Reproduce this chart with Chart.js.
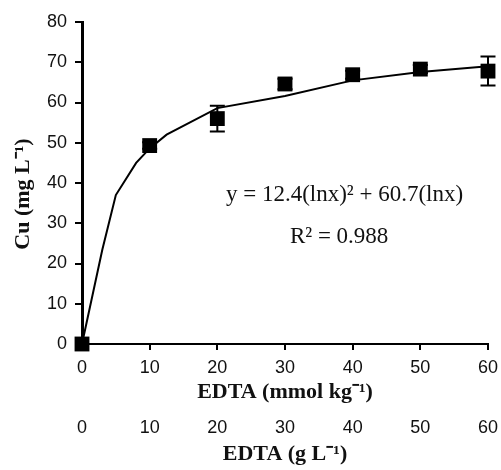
<!DOCTYPE html>
<html>
<head>
<meta charset="utf-8">
<script src="https://cdn.jsdelivr.net/npm/chart.js@4/dist/chart.umd.min.js"></script>
<style>
  html, body { margin: 0; padding: 0; background: #fff; }
  #wrap { width: 501px; height: 470px; position: relative; }
</style>
</head>
<body>
<div id="wrap"><canvas id="c"></canvas></div>
<script>
// Measured data (EDTA dose vs Cu extracted)
const edta = [0, 10, 20, 30, 40, 50, 60];
const cuMean = [0, 49.3, 56.0, 64.6, 66.9, 68.3, 67.8];
const cuErr = [0, 0.8, 3.2, 1.3, 1.0, 1.0, 3.6];

// Fitted curve
const fitX = [0, 3, 5, 8, 10, 12.5, 20, 30, 40, 50, 60];
const fitY = [0, 23.4, 37, 45, 48.6, 52, 58.6, 61.6, 65.5, 67.6, 69.0];

const xTicks = [0, 10, 20, 30, 40, 50, 60];
const yTicks = [0, 10, 20, 30, 40, 50, 60, 70, 80];

const eqLine1 = 'y = 12.4(lnx)² + 60.7(lnx)';
const eqLine2 = 'R² = 0.988';

const tickFont = { family: "'Liberation Sans', Arial, sans-serif", size: 18 };
const titleFont = { family: "'Liberation Serif', 'Times New Roman', serif", size: 22, weight: 'bold' };

const errorBars = {
  id: 'errorBars',
  afterDatasetsDraw(chart) {
    const { ctx, scales } = chart;
    ctx.save();
    ctx.strokeStyle = '#000';
    ctx.lineWidth = 2;
    edta.forEach((x, i) => {
      if (!cuErr[i]) return;
      const px = scales.x.getPixelForValue(x);
      const top = scales.y.getPixelForValue(cuMean[i] + cuErr[i]);
      const bot = scales.y.getPixelForValue(cuMean[i] - cuErr[i]);
      ctx.beginPath();
      ctx.moveTo(px, top); ctx.lineTo(px, bot);
      ctx.moveTo(px - 7.5, top); ctx.lineTo(px + 7.5, top);
      ctx.moveTo(px - 7.5, bot); ctx.lineTo(px + 7.5, bot);
      ctx.stroke();
    });
    ctx.restore();
  }
};

const equation = {
  id: 'equation',
  afterDraw(chart) {
    const { ctx, scales } = chart;
    ctx.save();
    ctx.fillStyle = '#111';
    ctx.font = "23px 'Liberation Serif', 'Times New Roman', serif";
    ctx.textAlign = 'center';
    ctx.textBaseline = 'middle';
    ctx.fillText(eqLine1, scales.x.getPixelForValue(38.8), scales.y.getPixelForValue(37.1));
    ctx.fillText(eqLine2, scales.x.getPixelForValue(38.0), scales.y.getPixelForValue(26.6));
    ctx.restore();
  }
};

function fixX(h) {
  return s => { s.height = h; s.paddingLeft = 0; s.paddingRight = 0; };
}

new Chart(document.getElementById('c'), {
  type: 'scatter',
  data: {
    datasets: [
      {
        type: 'line',
        label: 'fit',
        data: fitX.map((x, i) => ({ x, y: fitY[i] })),
        borderColor: '#000',
        borderWidth: 2,
        pointRadius: 0,
        tension: 0,
        fill: false,
        clip: false
      },
      {
        label: 'Cu',
        data: edta.map((x, i) => ({ x, y: cuMean[i] })),
        pointStyle: 'rect',
        pointRadius: 10.5,
        backgroundColor: '#000',
        borderColor: '#000',
        borderWidth: 0,
        clip: false
      }
    ]
  },
  options: {
    responsive: true,
    maintainAspectRatio: false,
    animation: false,
    events: [],
    layout: { padding: { top: 22, right: 13, left: 0, bottom: 0 } },
    plugins: { legend: { display: false }, tooltip: { enabled: false } },
    scales: {
      x: {
        type: 'linear',
        position: 'bottom',
        weight: 0,
        min: 0, max: 60,
        afterBuildTicks: s => { s.ticks = xTicks.map(v => ({ value: v })); },
        afterFit: fixX(62),
        grid: { drawOnChartArea: false, drawTicks: true, tickLength: 6, color: '#000', lineWidth: 2 },
        border: { display: true, color: '#000', width: 2 },
        ticks: { color: '#111', font: tickFont, padding: 7, maxRotation: 0 },
        title: { display: true, text: 'EDTA (mmol kg⁻¹)', color: '#111', font: titleFont, padding: { top: 0, bottom: 0 } }
      },
      x2: {
        type: 'linear',
        position: 'bottom',
        weight: 1,
        min: 0, max: 60,
        afterBuildTicks: s => { s.ticks = xTicks.map(v => ({ value: v })); },
        afterFit: fixX(64),
        grid: { display: false, drawTicks: false },
        border: { display: false },
        ticks: { color: '#111', font: tickFont, padding: 11, maxRotation: 0 },
        title: { display: true, text: 'EDTA (g L⁻¹)', color: '#111', font: titleFont, padding: { top: 0, bottom: 2 } }
      },
      y: {
        type: 'linear',
        min: 0, max: 80,
        afterBuildTicks: s => { s.ticks = yTicks.map(v => ({ value: v })); },
        afterFit: s => { s.width = 82; },
        grid: { drawOnChartArea: false, drawTicks: true, tickLength: 7, color: '#000', lineWidth: 2 },
        border: { display: true, color: '#000', width: 3 },
        ticks: { color: '#111', font: tickFont, padding: 8 },
        title: { display: true, text: 'Cu (mg L⁻¹)\u2003', color: '#111', font: titleFont, padding: { top: 10, bottom: 0 } }
      }
    }
  },
  plugins: [errorBars, equation]
});
</script>
</body>
</html>
